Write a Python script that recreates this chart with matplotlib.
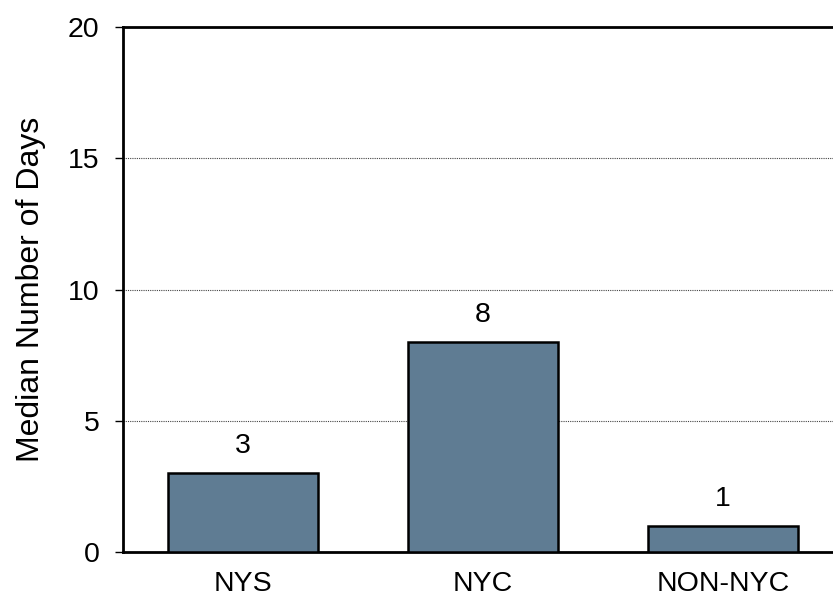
import matplotlib.pyplot as plt

plt.rcParams['font.family'] = ['Liberation Sans', 'DejaVu Sans']

# Data
regions = ['NYS', 'NYC', 'NON-NYC']
median_days = [3, 8, 1]
y_ticks = [0, 5, 10, 15, 20]

fig = plt.figure(figsize=(8.33, 5.99), dpi=100)
ax = fig.add_axes([123 / 833, 47 / 599, 720 / 833, 525 / 599])

x = range(len(regions))
ax.bar(x, median_days, width=0.625, color='#5F7C93', edgecolor='black', linewidth=1.8, zorder=3)

for xi, v in zip(x, median_days):
    ax.annotate(str(v), (xi, v), xytext=(0, 10), textcoords='offset points',
                ha='center', va='bottom', fontsize=20.5)

ax.set_xlim(-0.5, 2.5)
ax.set_ylim(0, 20)
ax.set_yticks(y_ticks)
ax.set_xticks(list(x))
ax.set_xticklabels(regions)
ax.tick_params(axis='both', labelsize=20.5)
ax.tick_params(axis='x', length=0, pad=14)
ax.tick_params(axis='y', length=6, width=1, direction='out', pad=11)
ax.set_ylabel('Median Number of Days', fontsize=23, labelpad=16)

ax.yaxis.grid(True, linestyle=(0, (1, 1)), color='#444444', linewidth=0.8, zorder=0)
for s in ax.spines.values():
    s.set_linewidth(2)

plt.savefig('out.png', dpi=100)
